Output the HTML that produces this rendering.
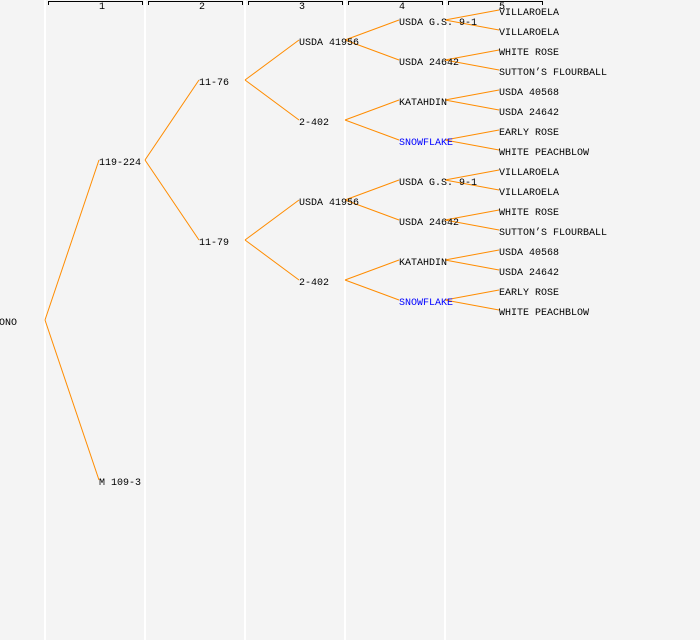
<!DOCTYPE html>
<html><head><style>
html,body{margin:0;padding:0;background:#f4f4f4;}
svg{display:block;}
text{font-family:"Liberation Mono",monospace;font-size:10px;fill:#000;}
</style></head><body>
<svg width="700" height="640" xmlns="http://www.w3.org/2000/svg">
<rect width="700" height="640" fill="#f4f4f4"/>
<g stroke="#ffffff" stroke-width="2">
<line x1="45" y1="0" x2="45" y2="640"/><line x1="145" y1="0" x2="145" y2="640"/>
<line x1="245" y1="0" x2="245" y2="640"/><line x1="345" y1="0" x2="345" y2="640"/>
<line x1="445" y1="0" x2="445" y2="640"/>
</g>
<g stroke="#000" stroke-width="1" fill="none">
<path d="M48.5 5V1.5H142.5V5"/><path d="M148.5 5V1.5H242.5V5"/><path d="M248.5 5V1.5H342.5V5"/>
<path d="M348.5 5V1.5H442.5V5"/><path d="M448.5 5V1.5H542.5V5"/>
</g>
<g style="font-size:8px" text-anchor="middle">
<text x="102" y="9">1</text><text x="202" y="9">2</text><text x="302" y="9">3</text><text x="402" y="9">4</text><text x="502" y="9">5</text>
</g>
<g stroke="#ff8c00" stroke-width="1" fill="none" id="L"></g>
<g id="T"></g>
<script>
var L=document.getElementById('L'),T=document.getElementById('T'),ns="http://www.w3.org/2000/svg";
function ln(x1,y1,x2,y2){var l=document.createElementNS(ns,'line');l.setAttribute('x1',x1);l.setAttribute('y1',y1-2);l.setAttribute('x2',x2);l.setAttribute('y2',y2-2);L.appendChild(l);}
function tx(x,y,s,c){var t=document.createElementNS(ns,'text');t.setAttribute('x',x);t.setAttribute('y',y+3);t.textContent=s;if(c)t.setAttribute('style','fill:'+c);T.appendChild(t);}
tx(-1,322,'ONO');
ln(45,322,99,162);ln(45,322,99,482);
tx(99,162,'119-224');tx(99,482,'M 109-3');
ln(145,162,199,82);ln(145,162,199,242);
tx(199,82,'11-76');tx(199,242,'11-79');
var g4=['VILLAROELA','VILLAROELA','WHITE ROSE','SUTTON\u2019S FLOURBALL','USDA 40568','USDA 24642','EARLY ROSE','WHITE PEACHBLOW'];
var g3=['USDA G.S. 9-1','USDA 24642','KATAHDIN','SNOWFLAKE'];
[82,242].forEach(function(y1,h){
 var a=y1-40,b=y1+40;
 ln(245,y1,299,a);ln(245,y1,299,b);
 tx(299,a,'USDA 41956');tx(299,b,'2-402');
 [a,b].forEach(function(y2,i){
  var c=y2-20,d=y2+20;
  ln(345,y2,399,c);ln(345,y2,399,d);
  [c,d].forEach(function(y3,j){
   var k=i*2+j;
   tx(399,y3,g3[k],k==3?'#0000ff':null);
   ln(445,y3,499,y3-10);ln(445,y3,499,y3+10);
   tx(499,y3-10,g4[k*2]);tx(499,y3+10,g4[k*2+1]);
  });
 });
});
</script>
</svg>
</body></html>
